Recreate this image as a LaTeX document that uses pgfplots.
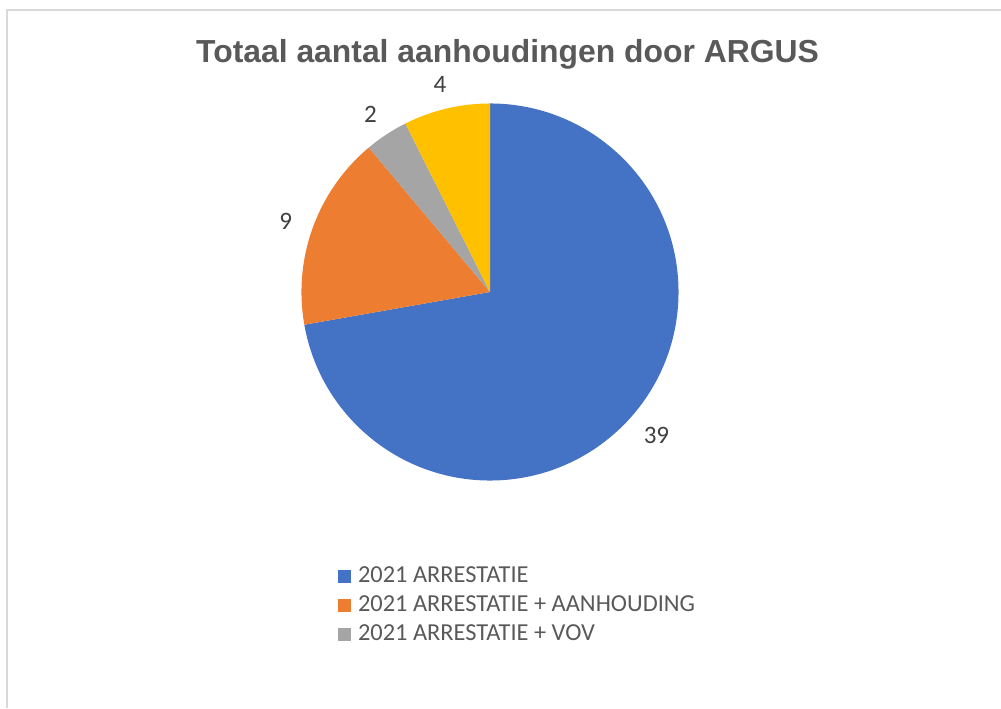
\documentclass[border=0pt]{standalone}
\usepackage{pgfplots}
\pgfplotsset{compat=1.18}
\usepackage{pgfplotstable}
\usepackage{fontspec}
\setmainfont{Carlito}
\newfontfamily\titlefont{Liberation Sans}

\definecolor{sblue}{HTML}{4472C4}
\definecolor{sorange}{HTML}{ED7D31}
\definecolor{sgray}{HTML}{A5A5A5}
\definecolor{syellow}{HTML}{FFC000}
\definecolor{titlegray}{HTML}{595959}
\definecolor{labelgray}{HTML}{404040}
\definecolor{framegray}{HTML}{D9D9D9}

% slices, clockwise from 12 o'clock
\pgfplotstableread[col sep=comma]{
label,value,colour
2021 ARRESTATIE,39,sblue
2021 ARRESTATIE + AANHOUDING,9,sorange
2021 ARRESTATIE + VOV,2,sgray
overig,4,syellow
}\piedata

\begin{document}
\begin{tikzpicture}
\useasboundingbox (0,0) rectangle (750.75pt,531pt);
\begin{axis}[
  width=750.75pt, height=531pt, scale only axis,
  xmin=0, xmax=1001, ymin=0, ymax=708,
  hide axis, clip=false,
  legend style={
    at={(axis cs:337.5,142)}, anchor=north west,
    draw=none, fill=none, inner sep=0pt,
    font=\fontsize{18.3}{20}\selectfont, text=titlegray,
    row sep=6.75pt,
    nodes={inner sep=0pt, text height=12pt, text depth=3pt},
    /tikz/every odd column/.append style={column sep=5.5pt},
  },
  legend cell align=left,
  legend image code/.code={\fill[#1, draw=none] (0pt,-4.9pt) rectangle (9.75pt,4.9pt);},
]
% chart frame
\draw[framegray, line width=1.5pt] (axis cs:7,0) -- (axis cs:7,697.5) -- (axis cs:1001,697.5);
% title
\node[anchor=base, text=titlegray, font=\titlefont\bfseries\fontsize{23.9}{26}\selectfont]
  at (axis cs:507.5,645.5) {Totaal aantal aanhoudingen door ARGUS};

\addlegendimage{fill=sblue}
\addlegendentry{2021 ARRESTATIE}
\addlegendimage{fill=sorange}
\addlegendentry{2021 ARRESTATIE + AANHOUDING}
\addlegendimage{fill=sgray}
\addlegendentry{2021 ARRESTATIE + VOV}

\pgfplotsextra{%
  \gdef\pietotal{0}%
  \pgfplotsforeachungrouped \i in {0,...,3}{%
    \pgfplotstablegetelem{\i}{value}\of\piedata
    \pgfmathsetmacro\pietmp{\pietotal+\pgfplotsretval}%
    \xdef\pietotal{\pietmp}%
  }%
  \gdef\piecum{0}%
  \pgfplotsforeachungrouped \i in {0,...,3}{%
    \pgfplotstablegetelem{\i}{value}\of\piedata\let\pieval\pgfplotsretval
    \pgfplotstablegetelem{\i}{colour}\of\piedata\let\piecol\pgfplotsretval
    \pgfmathsetmacro\astart{90-360/\pietotal*\piecum}%
    \pgfmathsetmacro\aend{90-360/\pietotal*(\piecum+\pieval)}%
    \pgfmathsetmacro\amid{(\astart+\aend)/2}%
    \fill[fill=\piecol] (axis cs:490,416) -- ++(\astart:141.4pt)
      arc[start angle=\astart, end angle=\aend, radius=141.4pt] -- cycle;
    \path (axis cs:490,412.5) ++(\amid:163pt)
      node[text=labelgray, font=\fontsize{18.8}{20}\selectfont] {\pieval};
    \pgfmathsetmacro\pietmp{\piecum+\pieval}%
    \xdef\piecum{\pietmp}%
  }%
}
\end{axis}
\end{tikzpicture}
\end{document}
